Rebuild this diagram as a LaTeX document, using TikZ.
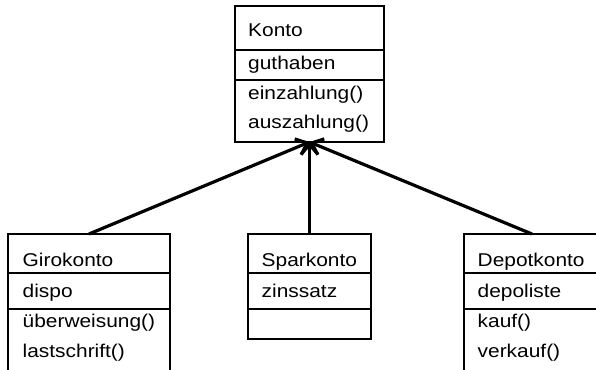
\documentclass[tikz,border=0pt]{standalone}
\usepackage{fontspec}
\setmainfont{Liberation Sans}[FakeStretch=1.13]
\usetikzlibrary{arrows.meta}

\tikzset{
  fach/.style={draw, line width=2.7pt, anchor=north west, inner sep=0pt, outer sep=0pt},
  eintrag/.style={anchor=base west, inner sep=0pt, font=\fontsize{18.5}{20}\selectfont},
  erbt/.style={line width=3.2pt, -{Straight Barb[length=10pt,width=17pt]}}
}

\begin{document}
\begin{tikzpicture}[x=1pt,y=-1pt]
      \useasboundingbox (0,0) rectangle (596,369);
      % Oberklasse
      \node[fach, minimum width=149pt, minimum height=44pt] (kontoname) at (235,6) {};
      \node[fach, minimum width=149pt, minimum height=30pt] (kontoattr) at (235,50) {};
      \node[fach, minimum width=149pt, minimum height=62pt] (kontometh) at (235,80) {};
      \node[eintrag] (konto) at (248,37) {Konto};
      \node[eintrag] (guthaben) at (248,69) {guthaben};
      \node[eintrag] (einzahlung) at (248,99) {einzahlung()};
      \node[eintrag] (auszahlung) at (248,128) {auszahlung()};
      % Unterklassen
      \node[fach, minimum width=162pt, minimum height=39pt] (gironame) at (8,234) {};
      \node[fach, minimum width=162pt, minimum height=36pt] (giroattr) at (8,273) {};
      \node[fach, minimum width=162pt, minimum height=62pt] (girometh) at (8,309) {};
      \node[eintrag] (giro) at (22.5,266.5) {Girokonto};
      \node[eintrag] (dispo) at (22.5,297) {dispo};
      \node[eintrag] (ueberweisung) at (22.5,327) {überweisung()};
      \node[eintrag] (lastschrift) at (22.5,357) {lastschrift()};
      \node[fach, minimum width=123pt, minimum height=39pt] (sparname) at (248,234) {};
      \node[fach, minimum width=123pt, minimum height=36pt] (sparattr) at (248,273) {};
      \node[fach, minimum width=123pt, minimum height=30pt] (sparmeth) at (248,309) {};
      \node[eintrag] (spar) at (261.5,266.5) {Sparkonto};
      \node[eintrag] (zinssatz) at (261.5,297) {zinssatz};
      \node[fach, minimum width=136pt, minimum height=39pt] (depotname) at (464,234) {};
      \node[fach, minimum width=136pt, minimum height=36pt] (depotattr) at (464,273) {};
      \node[fach, minimum width=136pt, minimum height=62pt] (depotmeth) at (464,309) {};
      \node[eintrag] (depot) at (477.5,266.5) {Depotkonto};
      \node[eintrag] (depoliste) at (477.5,297) {depoliste};
      \node[eintrag] (kauf) at (477.5,327) {kauf()};
      \node[eintrag] (verkauf) at (477.5,357) {verkauf()};
      % Vererbung
      \draw[erbt] (gironame.north) -- (kontometh.south);
      \draw[erbt] (sparname.north) -- (kontometh.south);
      \draw[erbt] (depotname.north) -- (kontometh.south);
    \end{tikzpicture}
\end{document}
